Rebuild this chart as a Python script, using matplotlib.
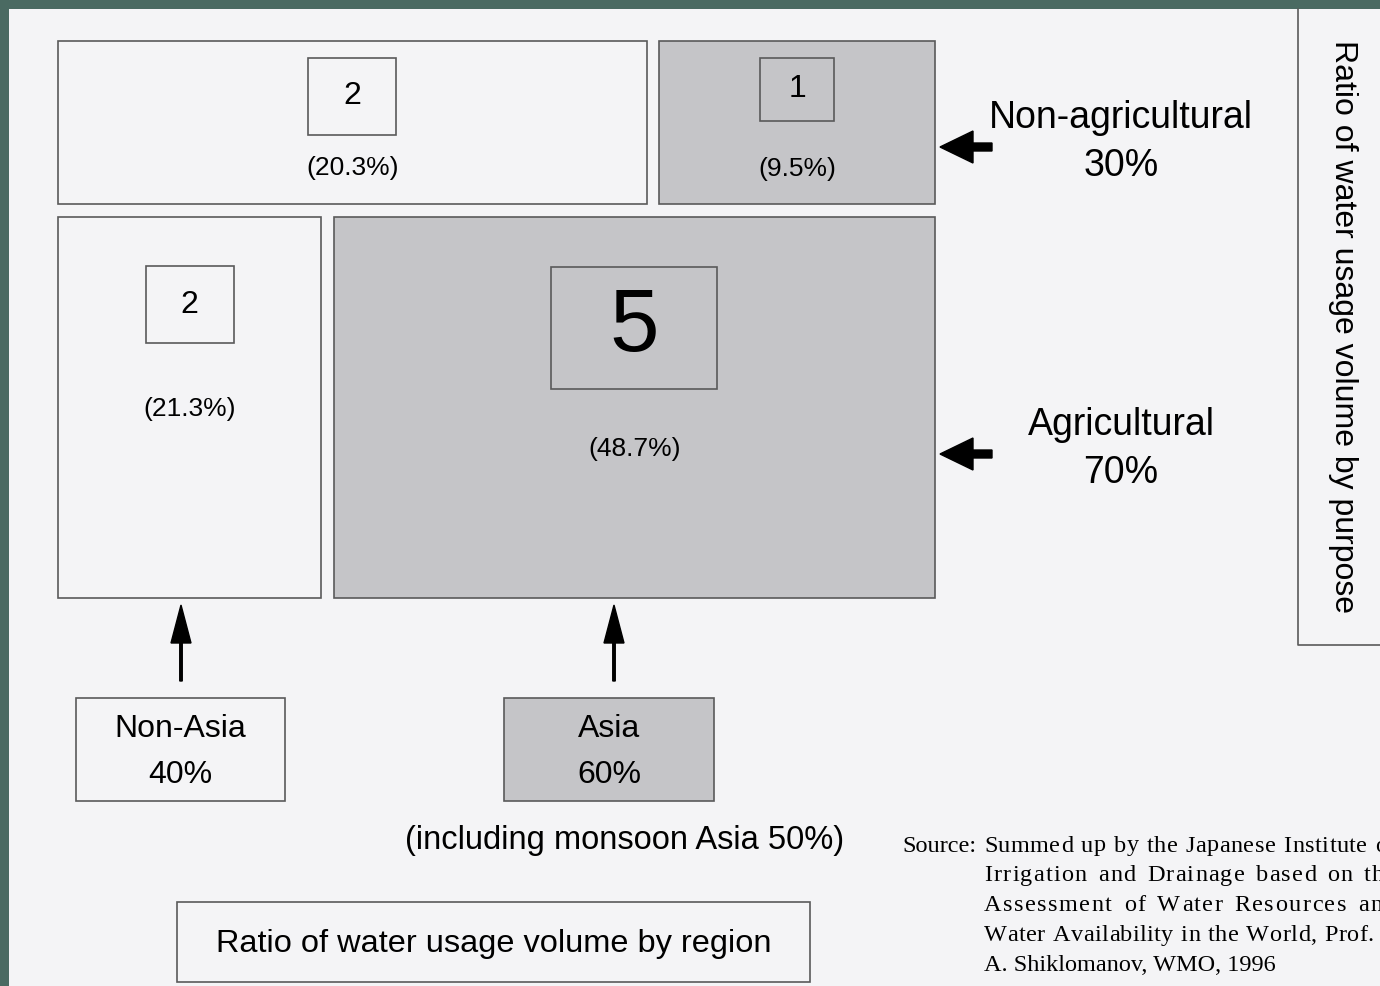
import matplotlib.pyplot as plt
from matplotlib.patches import Rectangle
from matplotlib.font_manager import FontProperties, findfont
from matplotlib.ft2font import FT2Font

# Data: share of water use by purpose (rows) and region (columns)
purposes = ["Non-agricultural", "Agricultural"]
purpose_share = [30, 70]
regions = ["Non-Asia", "Asia"]
region_share = [40, 60]
cell_share = [[20.3, 9.5],
              [21.3, 48.7]]
cell_rank = [[2, 1],
             [2, 5]]
asia_note = "(including monsoon Asia 50%)"
source_lines = ["Summed up by the Japanese Institute of",
                "Irrigation and Drainage based on the",
                "Assessment of Water Resources and",
                "Water Availability in the World, Prof. I.",
                "A. Shiklomanov, WMO, 1996"]

# Layout (pixels, figure is 1380x986)
W, H = 1380, 986
left, right, top, bottom, gap = 58, 935, 41, 598, 12.5
paper = "#f4f4f6"
gray = "#c5c5c8"
edge = "#5a5a5a"
sans = ["Liberation Sans", "DejaVu Sans"]
serif = ["Liberation Serif", "DejaVu Serif"]

rank_box = {1: (74, 63, 23), 2: (88, 77, 23), 5: (166, 122, 64)}
box_off = [[55, 48], [88, 111]]
pct_off = [[127, 128], [192, 232]]

fig = plt.figure(figsize=(W / 100, H / 100), dpi=100)
fig.patch.set_facecolor("#4a6a62")
ax = fig.add_axes([0, 0, 1, 1])
ax.set_xlim(0, W)
ax.set_ylim(H, 0)
ax.axis("off")

ax.add_patch(Rectangle((9, 9), W, H, facecolor=paper, edgecolor="none"))

# mosaic cells
total_h = bottom - top - gap * (len(purposes) - 1)
y = top
for i in range(len(purposes)):
    h = total_h * purpose_share[i] / sum(purpose_share)
    total_w = right - left - gap * (len(regions) - 1)
    x = left
    for j in range(len(regions)):
        w = total_w * cell_share[i][j] / sum(cell_share[i])
        fc = gray if regions[j] == "Asia" else paper
        ax.add_patch(Rectangle((x, y), w, h, facecolor=fc, edgecolor=edge, lw=1.2))
        cx = x + w / 2
        bw, bh, fs = rank_box[cell_rank[i][j]]
        by = y + box_off[i][j]
        ax.add_patch(Rectangle((cx - bw / 2, by - bh / 2), bw, bh, facecolor=fc,
                               edgecolor=edge, lw=1.2))
        ax.text(cx, by, str(cell_rank[i][j]), ha="center", va="center",
                fontsize=fs, family=sans)
        ax.text(cx, y + pct_off[i][j], "({}%)".format(cell_share[i][j]),
                ha="center", va="center", fontsize=19, family=sans)
        x += w + gap
    y += h + gap

# purpose labels with left arrows
purpose_y = [142, 449]
for k in range(len(purposes)):
    py = purpose_y[k]
    ax.arrow(992, py + 5, -52, 0, width=8, head_width=32, head_length=33,
             length_includes_head=True, color="black")
    ax.text(1121, py - 24, purposes[k], ha="center", va="center", fontsize=27, family=sans)
    ax.text(1121, py + 24, "{}%".format(purpose_share[k]), ha="center", va="center",
            fontsize=27, family=sans)

# region labels with up arrows
region_box = [(76, 285), (504, 714)]
arrow_x = [181, 614]
for k in range(len(regions)):
    x0, x1 = region_box[k]
    fc = gray if regions[k] == "Asia" else paper
    ax.add_patch(Rectangle((x0, 698), x1 - x0, 103, facecolor=fc, edgecolor=edge, lw=1.2))
    ax.text((x0 + x1) / 2, 729, regions[k], ha="center", va="center", fontsize=23, family=sans)
    ax.text((x0 + x1) / 2, 775, "{}%".format(region_share[k]), ha="center", va="center",
            fontsize=23, family=sans)
    ax.arrow(arrow_x[k], 681, 0, -76, width=2.5, head_width=20, head_length=38,
             length_includes_head=True, color="black")

ax.text(625, 840, asia_note, ha="center", va="center", fontsize=23.5, family=sans)

# titles
ax.add_patch(Rectangle((177, 902), 633, 80, facecolor=paper, edgecolor=edge, lw=1.2))
ax.text(494, 944, "Ratio of water usage volume by region", ha="center", va="center",
        fontsize=23.4, family=sans)
ax.plot([1298, 1298, W], [9, 645, 645], color=edge, lw=1.2)
ax.text(1343, 327, "Ratio of water usage volume by purpose", ha="center", va="center",
        rotation=-90, fontsize=23, family=sans)

# source note: printed justified with letter spacing, so place each character
src_size = 17.5
ft = FT2Font(findfont(FontProperties(family=serif)))
ft.set_size(src_size, 100)

def advances(s):
    return [ft.load_char(ord(c)).linearHoriAdvance / 65536 for c in s]

ax.text(902, 846, "Source:", ha="left", va="center", fontsize=src_size, family=serif)
src_left, src_right = 984, 1396
for k, line in enumerate(source_lines):
    ly = 846 + 29.8 * k
    if k == len(source_lines) - 1:
        ax.text(src_left, ly, line, ha="left", va="center", fontsize=src_size, family=serif)
        continue
    adv = advances(line)
    wt = [3 if c == " " else 1 for c in line]
    unit = (src_right - src_left - sum(adv)) / sum(wt[:-1])
    xx = src_left
    for c, a, t in zip(line, adv, wt):
        if c != " ":
            ax.text(xx, ly, c, ha="left", va="center", fontsize=src_size, family=serif)
        xx += a + unit * t

fig.savefig("out.png", dpi=100, facecolor=fig.get_facecolor())
